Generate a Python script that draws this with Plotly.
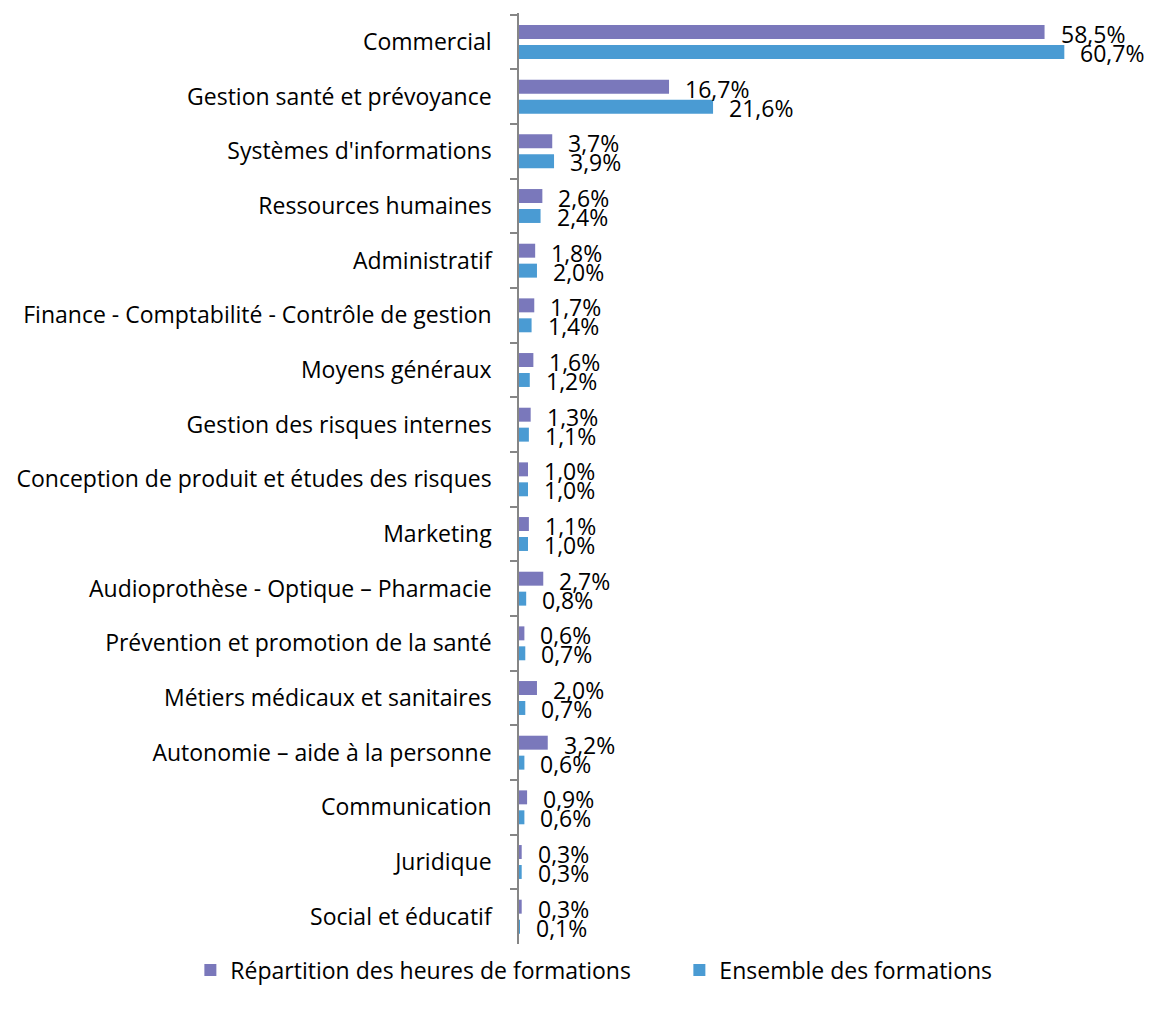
"""Répartition des formations par domaine - barres horizontales"""
import plotly.graph_objects as go

categories = [
    "Commercial",
    "Gestion santé et prévoyance",
    "Systèmes d'informations",
    "Ressources humaines",
    "Administratif",
    "Finance - Comptabilité - Contrôle de gestion",
    "Moyens généraux",
    "Gestion des risques internes",
    "Conception de produit et études des risques",
    "Marketing",
    "Audioprothèse - Optique – Pharmacie",
    "Prévention et promotion de la santé",
    "Métiers médicaux et sanitaires",
    "Autonomie – aide à la personne",
    "Communication",
    "Juridique",
    "Social et éducatif",
]
heures = [58.5, 16.7, 3.7, 2.6, 1.8, 1.7, 1.6, 1.3, 1.0, 1.1, 2.7, 0.6, 2.0, 3.2, 0.9, 0.3, 0.3]
ensemble = [60.7, 21.6, 3.9, 2.4, 2.0, 1.4, 1.2, 1.1, 1.0, 1.0, 0.8, 0.7, 0.7, 0.6, 0.6, 0.3, 0.1]

series_names = ["Répartition des heures de formations", "Ensemble des formations"]
colors = ["#7a78bb", "#4a9bd3"]
label_yshift = [8, -11]  # décalage vertical des étiquettes (comme Excel)

FONT = "'Open Sans', sans-serif"
FSIZE = 23


def fmt(v):
    return f"{v:.1f}".replace(".", ",") + "%"


fig = go.Figure()
for name, vals, color in zip(series_names, [heures, ensemble], colors):
    fig.add_trace(
        go.Bar(
            y=categories,
            x=vals,
            orientation="h",
            name=name,
            marker=dict(color=color, line=dict(width=0)),
            hoverinfo="x+y",
        )
    )

# étiquettes de données
for vals, dy in zip([heures, ensemble], label_yshift):
    for cat, v in zip(categories, vals):
        fig.add_annotation(
            x=v, y=cat, xref="x", yref="y",
            text=fmt(v), showarrow=False,
            xanchor="left", yanchor="middle",
            xshift=14, yshift=dy,
            font=dict(family=FONT, size=FSIZE, color="#000000"),
        )

fig.update_layout(
    width=1150,
    height=1010,
    barmode="group",
    bargap=0.27,
    bargroupgap=0.3,
    plot_bgcolor="white",
    paper_bgcolor="white",
    margin=dict(l=519, r=74, t=13, b=66, autoexpand=False),
    font=dict(family=FONT, size=FSIZE, color="#000000"),
    showlegend=True,
    legend=dict(
        orientation="h",
        x=-0.59,
        xanchor="left",
        y=-0.028,
        yanchor="middle",
        font=dict(family=FONT, size=FSIZE, color="#000000"),
        itemwidth=30,
        entrywidth=444,
        entrywidthmode="pixels",
        traceorder="normal",
    ),
)

fig.update_xaxes(
    range=[0, 62],
    showticklabels=False,
    showgrid=False,
    zeroline=False,
    showline=False,
    ticks="",
)

fig.update_yaxes(
    type="category",
    categoryorder="array",
    categoryarray=categories,
    autorange="reversed",
    showline=True,
    linecolor="#868686",
    linewidth=1.5,
    ticks="outside",
    tickson="boundaries",
    ticklen=7,
    tickcolor="#868686",
    tickwidth=1.5,
    showgrid=False,
    ticklabelstandoff=21,
    tickfont=dict(family=FONT, size=FSIZE, color="#000000"),
)

fig.write_html(
    "out.html",
    config={"displayModeBar": False},
    post_script="document.body.style.margin='0';",
)
